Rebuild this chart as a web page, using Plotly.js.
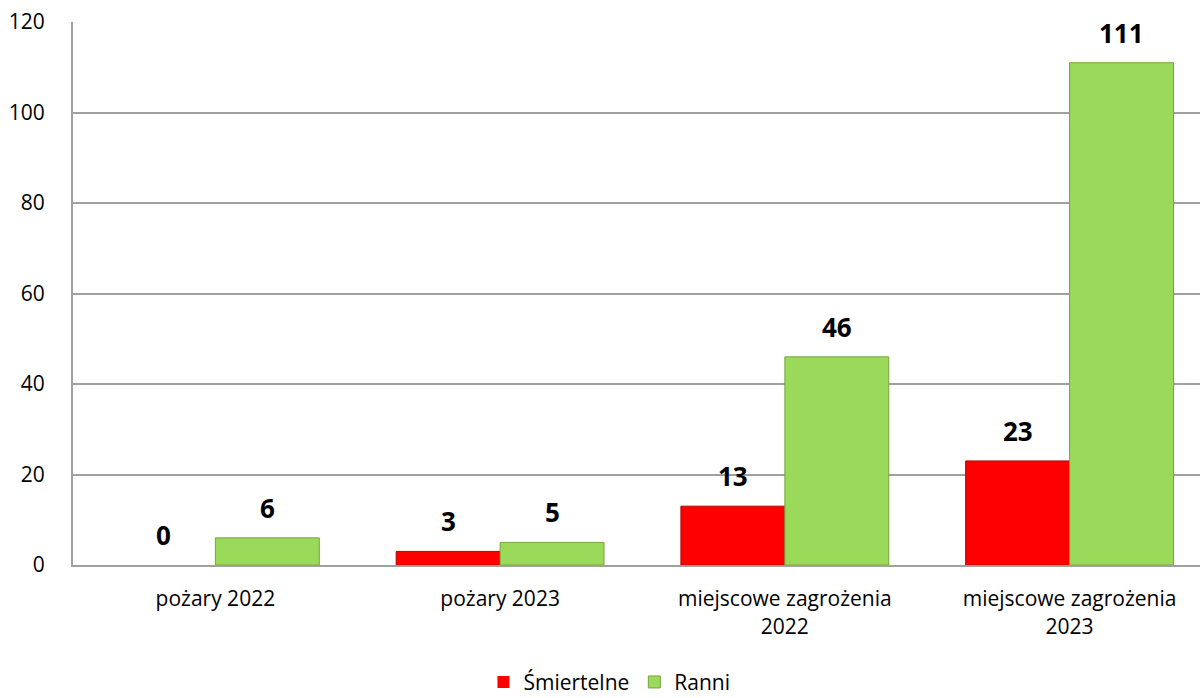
<!DOCTYPE html>
<html>
<head>
<meta charset="utf-8">
<script src="https://cdn.plot.ly/plotly-3.0.1.min.js"></script>
<style>html,body{margin:0;padding:0;background:#fff;}#chart{width:1200px;height:698px;}</style>
</head>
<body>
<div id="chart"></div>
<script>
const categories = ["pożary 2022", "pożary 2023", "miejscowe zagrożenia<br>2022", "miejscowe zagrożenia<br>2023"];
const seriesNames = ["Śmiertelne", "Ranni"];
const smiertelne = [0, 3, 13, 23];
const ranni = [6, 5, 46, 111];
const yTicks = [0, 20, 40, 60, 80, 100, 120];

const font = "'Open Sans', 'Liberation Sans', sans-serif";
const traces = [
  {type: "bar", name: seriesNames[0], x: categories, y: smiertelne,
   marker: {color: "#ff0000", line: {color: "#b80000", width: smiertelne.map(v => v ? 1 : 0)}}},
  {type: "bar", name: seriesNames[1], x: categories, y: ranni,
   marker: {color: "#9bd95a", line: {color: "#76a63a", width: ranni.map(v => v ? 1 : 0)}}}
];
// value labels above each bar (positioned from the data values)
const annotations = [];
[smiertelne, ranni].forEach((vals, si) => {
  vals.forEach((v, i) => {
    annotations.push({x: i, y: v, xref: "x", yref: "y", text: "<b>" + v + "</b>",
      showarrow: false, xshift: si === 0 ? -52 : 52, yshift: 30, yanchor: "middle",
      font: {size: 26, color: "#000", family: font}});
  });
});
const layout = {
  width: 1200, height: 698,
  margin: {l: 73, r: 0, t: 22, b: 133, autoexpand: false},
  paper_bgcolor: "#fff", plot_bgcolor: "#fff",
  barmode: "group", bargap: 0.27, bargroupgap: 0,
  font: {family: font, size: 21, color: "#000"},
  showlegend: true,
  legend: {orientation: "h", x: 0.476, xanchor: "center", y: -0.216, yanchor: "middle",
           font: {size: 21}, traceorder: "normal"},
  annotations: annotations,
  xaxis: {range: [-0.5, 3.458], showline: true, linecolor: "#a0a0a0", linewidth: 2, ticks: "",
          tickfont: {size: 21}, ticklabelstandoff: 14, automargin: false, fixedrange: true},
  yaxis: {range: [0, 120], tickvals: yTicks, ticktext: yTicks.map(String), showgrid: true, gridcolor: "#a0a0a0", gridwidth: 2,
          showline: true, linecolor: "#a0a0a0", linewidth: 2, ticks: "", zeroline: false, automargin: false,
          tickfont: {size: 21}, ticklabelstandoff: 22}
};
Plotly.newPlot("chart", traces, layout, {displayModeBar: false, staticPlot: true});
</script>
</body>
</html>
